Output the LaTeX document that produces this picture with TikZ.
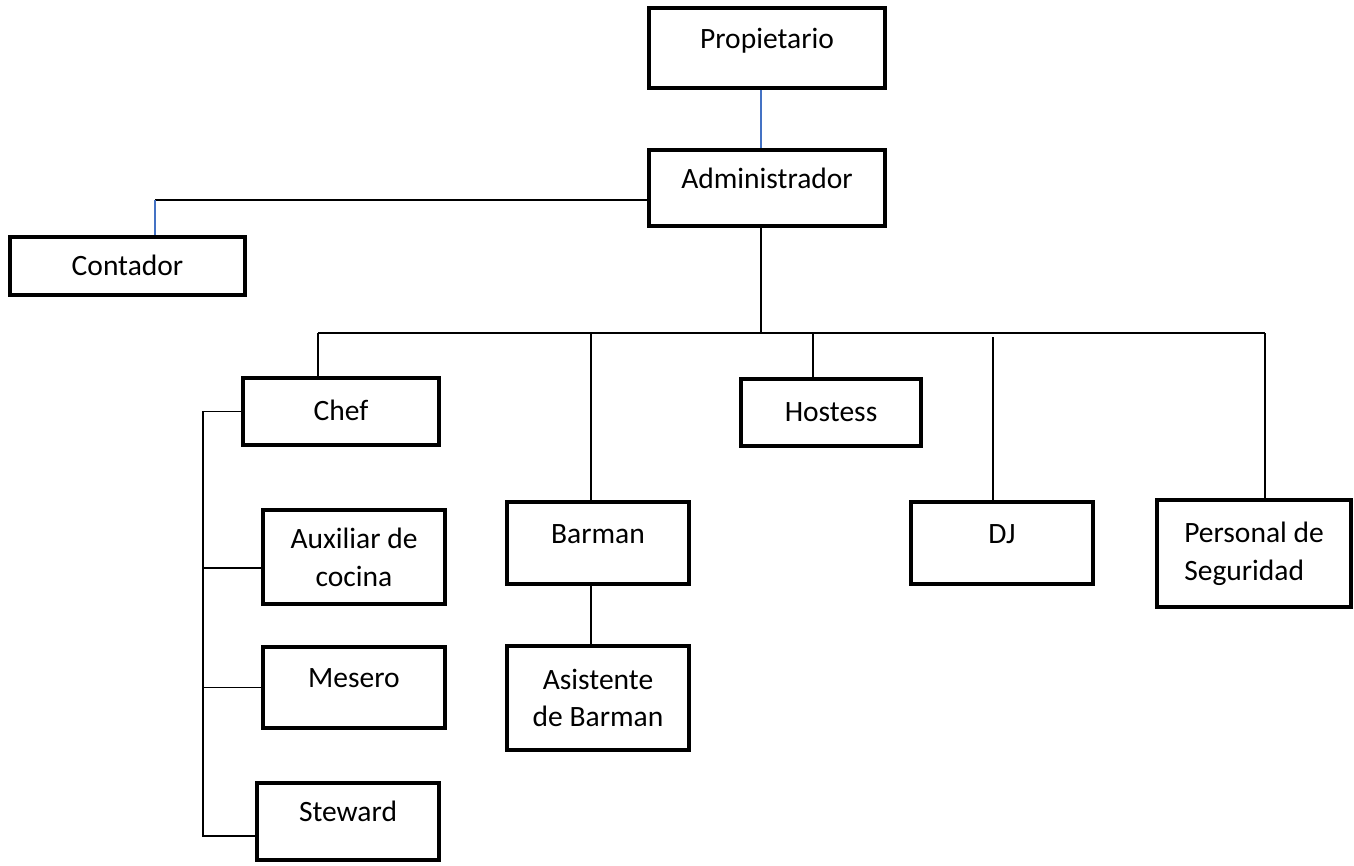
\documentclass[tikz,border=0pt]{standalone}
\usepackage{fontspec}
\setmainfont{Carlito}
\definecolor{azul}{RGB}{68,114,196}
\tikzset{
  caja/.style={draw, line width=2.6pt, inner sep=0pt, font=\fontsize{16.8}{21.5}\selectfont},
  tam/.style 2 args={minimum width=#1*0.02cm, minimum height=#2*0.02cm},
  una/.style={text height=0.45cm, text depth=0.08cm},
  arriba/.style={text height=0.45cm, text depth=0.44cm},
  linea/.style={line width=0.8pt},
  azulado/.style={linea, draw=azul}
}
\begin{document}
\begin{tikzpicture}[x=0.02cm, y=-0.02cm]
\useasboundingbox (0,0) rectangle (1354,865);
% cajas
\node[caja, arriba, tam={236}{80}] (prop) at (767,48) {Propietario};
\node[caja, arriba, tam={236}{76}] (adm) at (767,188) {Administrador};
\node[caja, una, tam={235}{58}] (cont) at (127.5,266) {Contador};
\node[caja, una, tam={196}{67}] (chef) at (341,411.5) {Chef};
\node[caja, una, tam={180}{67}] (host) at (831,412.5) {Hostess};
\node[caja, arriba, tam={182}{82}] (bar) at (598,543) {Barman};
\node[caja, arriba, tam={182}{82}] (dj) at (1002,543) {DJ};
\node[caja, align=left, tam={194}{107}] (pers) at (1254,553.5) {Personal de\\Seguridad};
\node[caja, align=center, tam={182}{94}] (aux) at (354,557) {Auxiliar de\\cocina};
\node[caja, arriba, tam={182}{81}] (mes) at (354,687.5) {Mesero};
\node[caja, arriba, tam={182}{77}] (stew) at (348,821.5) {Steward};
\node[caja, align=center, tam={182}{104}] (asis) at (598,698) {Asistente\\de Barman};
% conectores
\draw[azulado] ([xshift=-0.12cm]prop.south) -- ([xshift=-0.12cm]adm.north);
\coordinate (codo) at (155,200);
\draw[linea] (codo -| adm.west) -- (codo);
\draw[azulado] (codo) -- (codo |- cont.north);
\coordinate (bus) at (761,333);
\draw[linea] (bus |- adm.south) -- (bus);
\coordinate (bchef) at (318,333);
\coordinate (bbar) at (591,333);
\coordinate (bhost) at (813,333);
\coordinate (bdj) at (993,337);
\coordinate (bpers) at (1265,333);
\draw[linea] (bchef) -- (bpers);
\foreach \b/\n in {bchef/chef, bbar/bar, bhost/host, bdj/dj, bpers/pers}
  \draw[linea] (\b) -- (\b |- \n.north);
\draw[linea] (bbar |- bar.south) -- (bbar |- asis.north);
\coordinate (raux) at (203,568);
\coordinate (pie) at (203,836);
\draw[linea] (chef.west) -| (pie) -- (pie -| stew.west);
\draw[linea] (raux) -- (raux -| aux.west);
\draw[linea] (pie |- mes.west) -- (mes.west);
\end{tikzpicture}
\end{document}
